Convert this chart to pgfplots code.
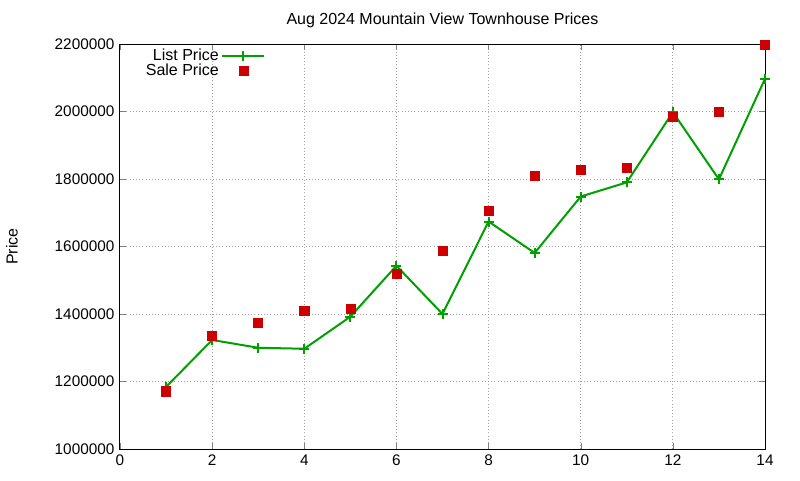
\documentclass[border=0pt]{standalone}
\usepackage{pgfplots}
\pgfplotsset{compat=1.18}
\usepackage{fontspec}
\setmainfont{Liberation Sans}

\definecolor{lpgreen}{RGB}{0,160,0}
\definecolor{spred}{RGB}{204,0,0}
\definecolor{gridgray}{RGB}{160,160,160}

% list price / sale price by week
\pgfplotstableread{
x list sale
1 1184000 1171000
2 1323000 1335000
3 1300000 1374000
4 1297000 1410000
5 1392000 1416000
6 1543000 1519000
7 1400000 1588000
8 1674000 1706000
9 1581000 1810000
10 1748000 1828000
11 1790000 1834000
12 1998000 1985000
13 1799000 2000000
14 2097000 2199000
}\prices

\begin{document}
\fontsize{12}{14}\selectfont
\begin{tikzpicture}
\begin{axis}[
    scale only axis,
    width=483.75pt, height=303.75pt,
    xmin=0, xmax=14,
    ymin=1000000, ymax=2200000,
    xtick={0,2,...,14},
    ytick={1000000,1200000,...,2200000},
    scaled y ticks=false,
    /pgf/number format/assume math mode=true,
    yticklabel style={/pgf/number format/fixed,/pgf/number format/1000 sep={}},
    tick label style={font=\fontsize{11.5}{14}\selectfont},
    tick align=inside,
    major tick length=4.5pt,
    axis line style={black, line width=0.75pt},
    grid=major,
    major grid style={gridgray, dotted, line width=0.75pt},
    title={Aug 2024 Mountain View Townhouse Prices},
    title style={font=\fontsize{12}{14}\selectfont, yshift=2pt},
    ylabel={Price},
    ylabel style={at={(axis description cs:-0.1674,0.5)}, anchor=center, font=\fontsize{12}{14}\selectfont},
    legend style={at={(axis description cs:0.228,0.998)}, anchor=north east,
        draw=none, fill=none, font=\fontsize{12}{14}\selectfont,
        row sep=-3.5pt, inner sep=1pt},
    legend cell align=right,
    legend plot pos=right,
    legend image code/.code={\draw[mark repeat=2,mark phase=2,#1]
        plot coordinates {(0pt,0pt) (15.75pt,0pt) (31.5pt,0pt)};},
]
\coordinate (sw) at (rel axis cs:0,0);
\coordinate (ne) at (rel axis cs:1,1);
\addplot[lpgreen, line width=1.5pt, mark=+, mark size=3.75pt,
    mark options={line width=1.5pt}] table[x=x, y=list] {\prices};
\addlegendentry{List Price}
\addplot[only marks, spred, mark=square*, mark size=3.4pt] table[x=x, y=sale] {\prices};
\addlegendentry{Sale Price}
\end{axis}
\path ([xshift=-90pt,yshift=-23.25pt]sw) rectangle ([xshift=26.25pt,yshift=33pt]ne);
\end{tikzpicture}
\end{document}
